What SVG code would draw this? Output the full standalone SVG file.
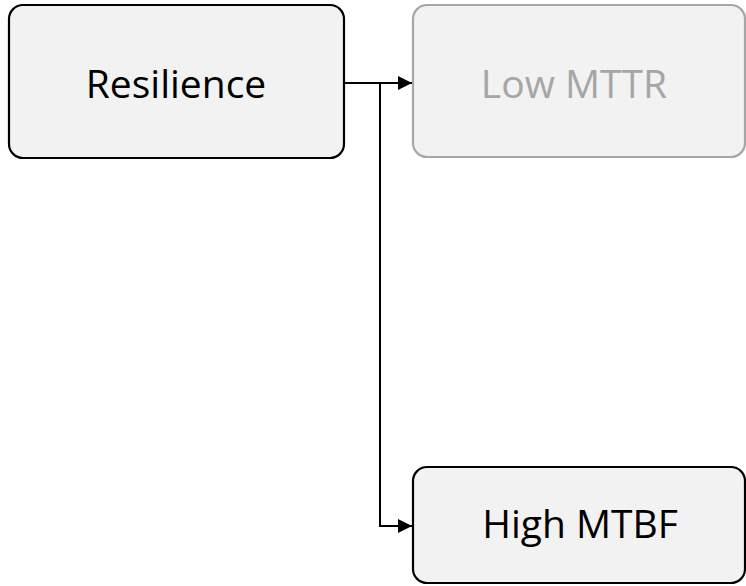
<svg xmlns="http://www.w3.org/2000/svg" width="746" height="586" viewBox="0 0 746 586">
  <defs>
    <marker id="arrow" viewBox="0 0 10 10" refX="10" refY="5" markerWidth="15" markerHeight="14" markerUnits="userSpaceOnUse" orient="auto">
      <path d="M0,0 L10,5 L0,10 z" fill="#000"/>
    </marker>
    <style>
      .box { fill: #f2f2f2; stroke: #000; stroke-width: 2.2; }
      .box.dim { stroke: #a6a6a6; }
      .label { font-family: "Open Sans", "Liberation Sans", sans-serif; font-size: 39px; fill: #000; text-anchor: middle; }
      .label.dim { fill: #a6a6a6; }
      .link { fill: none; stroke: #000; stroke-width: 2; }
    </style>
  </defs>
  <rect width="746" height="586" fill="#fff"/>
  <g id="resilience">
    <rect class="box" x="9" y="5" width="335" height="153" rx="14"/>
    <text class="label" x="176" y="98">Resilience</text>
  </g>
  <g id="low-mttr">
    <rect class="box dim" x="413" y="5" width="332" height="152" rx="14"/>
    <text class="label dim" x="574" y="98">Low MTTR</text>
  </g>
  <g id="high-mtbf">
    <rect class="box" x="413" y="467" width="332" height="116" rx="14"/>
    <text class="label" x="580" y="538">High MTBF</text>
  </g>
  <g id="connectors">
    <path class="link" d="M344,83 H412" marker-end="url(#arrow)"/>
    <path class="link" d="M380,83 V526 H412" marker-end="url(#arrow)"/>
  </g>
</svg>
